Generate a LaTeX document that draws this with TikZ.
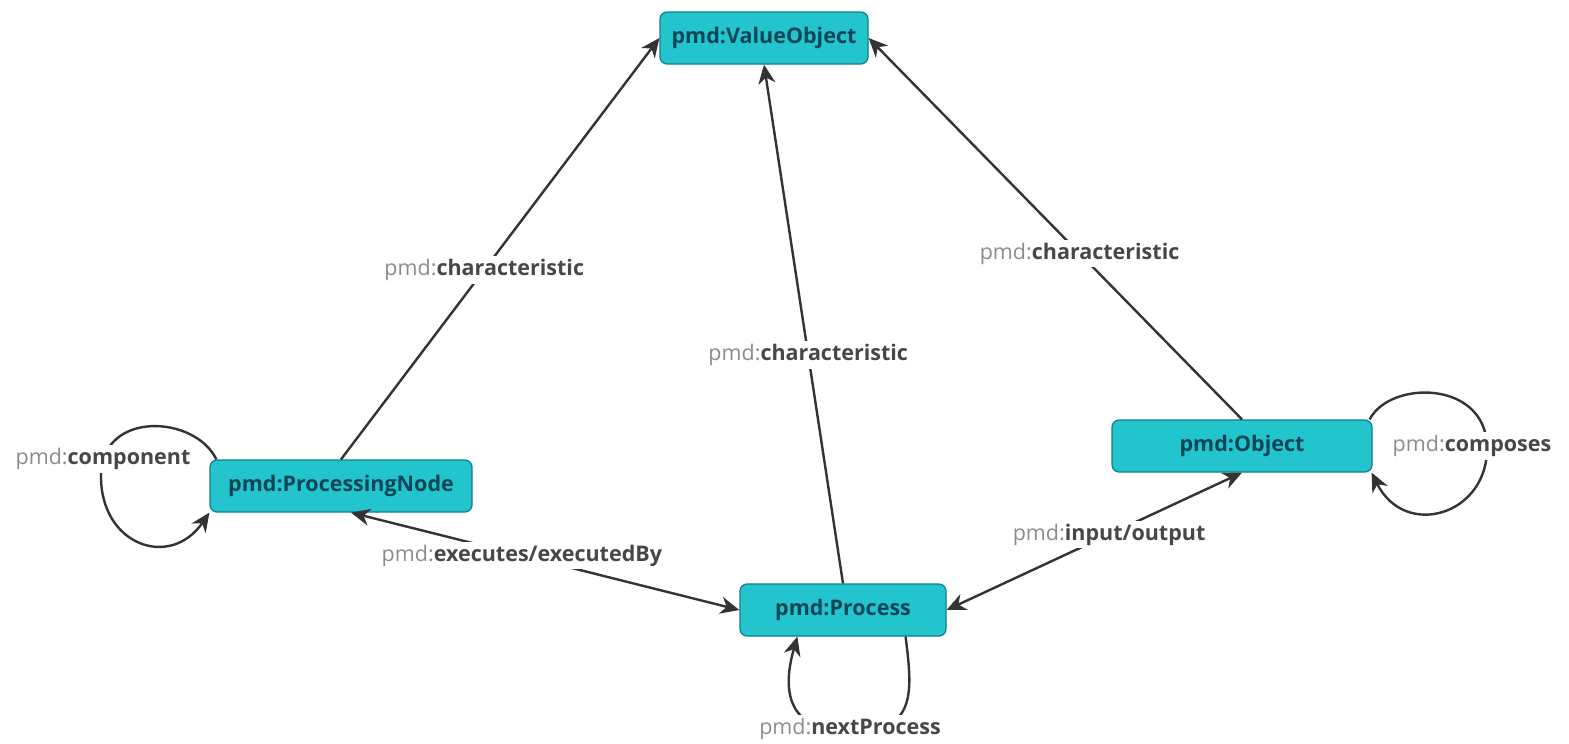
\documentclass[tikz,border=0pt]{standalone}
\usepackage{fontspec}
\setmainfont{Open Sans}
\usetikzlibrary{arrows.meta}
\definecolor{nodefill}{HTML}{22C4CE}
\definecolor{nodeborder}{HTML}{127F88}
\definecolor{nodetext}{HTML}{0C4656}
\definecolor{edgecol}{HTML}{333333}
\definecolor{pmdgray}{HTML}{8C8C8C}
\definecolor{relcol}{HTML}{474747}
\newcommand\relname[1]{\textcolor{pmdgray}{pmd:}\textcolor{relcol}{\bfseries #1}}
\tikzset{
  tip/.tip={Stealth[length=19pt,width=17pt,inset=6pt]},
  cls/.style={draw=nodeborder, fill=nodefill, rounded corners=7pt, line width=1.2pt,
    minimum height=52pt, inner sep=0pt, text=nodetext,
    font=\bfseries\fontsize{21.5}{24}\selectfont},
  rel/.style={draw=edgecol, line width=2.4pt, -tip},
  birel/.style={rel, tip-tip},
  lbl/.style={fill=white, inner sep=3pt, font=\fontsize{21.5}{24}\selectfont}
}
\begin{document}
\begin{tikzpicture}[x=1pt,y=-1pt]
\useasboundingbox[fill=white] (0,0) rectangle (1569,744);

% classes
\node[cls, minimum width=208pt] (VO) at (764,38)  {pmd:ValueObject};
\node[cls, minimum width=262pt] (PN) at (341,486) {pmd:ProcessingNode};
\node[cls, minimum width=206pt] (PR) at (843,610) {pmd:Process};
\node[cls, minimum width=260pt] (OB) at (1242,446) {pmd:Object};

% characteristic links
\draw[rel] (PN.north) -- node[lbl,pos=0.45] {\relname{characteristic}} (VO.west);
\draw[rel] (PR.north) -- node[lbl,pos=0.44] {\relname{characteristic}} (VO.south);
\draw[rel] (OB.north) -- node[lbl,pos=0.435] {\relname{characteristic}} (VO.east);

% two-way links
\draw[birel] ([xshift=10pt]PN.south) -- node[lbl,pos=0.44] {\relname{executes/executedBy}} (PR.west);
\draw[birel] (PR.east) -- node[lbl,pos=0.55] {\relname{input/output}} (OB.south);

% self links
\draw[rel] ([xshift=7pt]PN.north west) .. controls (195,415) and (102,410) .. (101,475)
  .. controls (100,545) and (170,570) .. (PN.south west);
\node[lbl] (lcomp) at (103,459) {\relname{component}};

\draw[rel] ([xshift=-3pt]OB.north east) .. controls (1390,380) and (1485,380) .. (1487,446)
  .. controls (1489,515) and (1405,540) .. ([xshift=-1pt]OB.south east);
\node[lbl] (lcompo) at (1472,446) {\relname{composes}};

\draw[rel] ([xshift=-41pt]PR.south east) .. controls (912,690) and (918,732) .. (852,732)
  .. controls (786,732) and (782,690) .. ([xshift=58pt]PR.south west);
\node[lbl] (lnext) at (850,729) {\relname{nextProcess}};
\end{tikzpicture}
\end{document}
